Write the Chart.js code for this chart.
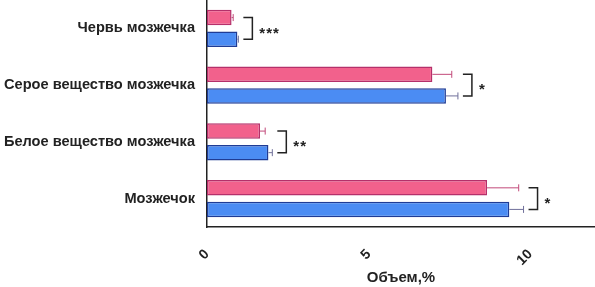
<!DOCTYPE html>
<html>
<head>
<meta charset="utf-8">
<script src="https://cdn.jsdelivr.net/npm/chart.js@4.4.1/dist/chart.umd.min.js"></script>
<style>
  html, body { margin: 0; padding: 0; background: #fff; }
  #wrap { width: 595px; height: 287px; position: relative; }
</style>
</head>
<body>
<div id="wrap"><canvas id="chart_volume"></canvas></div>
<script>
// categories (top to bottom)
var regions = ['Червь мозжечка', 'Серое вещество мозжечка', 'Белое вещество мозжечка', 'Мозжечок'];
// pink group
var pinkMeans = [0.76, 6.97, 1.64, 8.66];
var pinkErr = [0.05, 0.60, 0.16, 0.98];
// blue group
var blueMeans = [0.94, 7.39, 1.90, 9.35];
var blueErr = [0.03, 0.37, 0.12, 0.44];
// significance marks
var stars = ['***', '*', '**', '*'];
var xTicks = [0, 5, 10];

var FONT = '"Liberation Sans", Arial, sans-serif';

var errorBarsPlugin = {
    id: 'errorBars',
    afterDatasetsDraw: (chart) => {
        const ctx = chart.ctx;
        const xs = chart.scales.x;
        const errs = [pinkErr, blueErr];
        const cols = ['#c24a7a', '#70709a'];
        ctx.save();
        chart.data.datasets.forEach((ds, di) => {
            const meta = chart.getDatasetMeta(di);
            meta.data.forEach((bar, i) => {
                const x0 = xs.getPixelForValue(ds.data[i]);
                const x1 = xs.getPixelForValue(ds.data[i] + errs[di][i]);
                ctx.strokeStyle = cols[di];
                ctx.lineWidth = 1;
                ctx.beginPath();
                ctx.moveTo(x0, bar.y);
                ctx.lineTo(x1, bar.y);
                ctx.moveTo(x1, bar.y - 3.5);
                ctx.lineTo(x1, bar.y + 3.5);
                ctx.stroke();
            });
        });
        // brackets and stars
        const m0 = chart.getDatasetMeta(0), m1 = chart.getDatasetMeta(1);
        ctx.strokeStyle = '#222';
        ctx.fillStyle = '#222';
        ctx.lineWidth = 1.5;
        ctx.font = 'bold 15px ' + FONT;
        ctx.letterSpacing = '1px';
        ctx.textAlign = 'left';
        ctx.textBaseline = 'middle';
        regions.forEach((r, i) => {
            const top = Math.max(pinkMeans[i] + pinkErr[i], blueMeans[i] + blueErr[i]);
            const xv = xs.getPixelForValue(top) + 14;
            const y0 = m0.data[i].y, y1 = m1.data[i].y;
            ctx.beginPath();
            ctx.moveTo(xv - 9, y0);
            ctx.lineTo(xv, y0);
            ctx.lineTo(xv, y1);
            ctx.lineTo(xv - 9, y1);
            ctx.stroke();
            ctx.fillText(stars[i], xv + 7, (y0 + y1) / 2 + 5);
        });
        ctx.restore();
    }
};

var chart_volume = new Chart(document.getElementById('chart_volume'), {
    type: 'bar',
    data: {
        labels: regions,
        datasets: [
            {
                label: 'pink',
                data: pinkMeans,
                backgroundColor: '#f2618c',
                borderColor: '#b5306a',
                borderWidth: 1.5,
                borderSkipped: false,
                categoryPercentage: 0.76,
                barPercentage: 0.72
            },
            {
                label: 'blue',
                data: blueMeans,
                backgroundColor: '#4b8cf3',
                borderColor: '#1f3c95',
                borderWidth: 1.5,
                borderSkipped: false,
                categoryPercentage: 0.76,
                barPercentage: 0.72
            }
        ]
    },
    options: {
        indexAxis: 'y',
        animation: false,
        responsive: true,
        maintainAspectRatio: false,
        layout: { padding: { top: -5, right: 0, left: 0, bottom: 0 } },
        plugins: {
            legend: { display: false },
            tooltip: { enabled: false }
        },
        scales: {
            x: {
                type: 'linear',
                min: 0,
                max: 12,
                afterBuildTicks: (scale) => {
                    scale.ticks = xTicks.map(v => ({ value: v }));
                },
                afterFit: (scale) => { scale.height = 60; scale.paddingLeft = 0; scale.paddingRight = 0; },
                border: { display: true, color: '#222', width: 1.5 },
                grid: { display: false, drawOnChartArea: false, drawTicks: true, tickLength: 6, tickColor: '#222', tickWidth: 1.5 },
                ticks: {
                    minRotation: 45,
                    maxRotation: 45,
                    padding: 13,
                    color: '#222',
                    font: { family: FONT, size: 14, weight: 'bold' }
                },
                title: {
                    display: true,
                    text: 'Объем,%',
                    color: '#222',
                    padding: { top: 0, bottom: 0 },
                    font: { family: FONT, size: 15, weight: 'bold' }
                }
            },
            y: {
                afterFit: (scale) => { scale.width = 207; scale.paddingTop = 0; scale.paddingBottom = 0; },
                border: { display: true, color: '#222', width: 1.5 },
                grid: { display: false, drawOnChartArea: false, drawTicks: true, tickLength: 6, tickColor: '#222', tickWidth: 1.5 },
                ticks: {
                    padding: 6,
                    color: '#222',
                    font: { family: FONT, size: 14.6, weight: 'bold' }
                }
            }
        }
    },
    plugins: [errorBarsPlugin, {
        id: 'whiteBg',
        beforeDraw: (chart) => {
            const ctx = chart.canvas.getContext('2d');
            ctx.save();
            ctx.globalCompositeOperation = 'destination-over';
            ctx.fillStyle = 'white';
            ctx.fillRect(0, 0, chart.canvas.width, chart.canvas.height);
            ctx.restore();
        }
    }]
});
</script>
</body>
</html>
